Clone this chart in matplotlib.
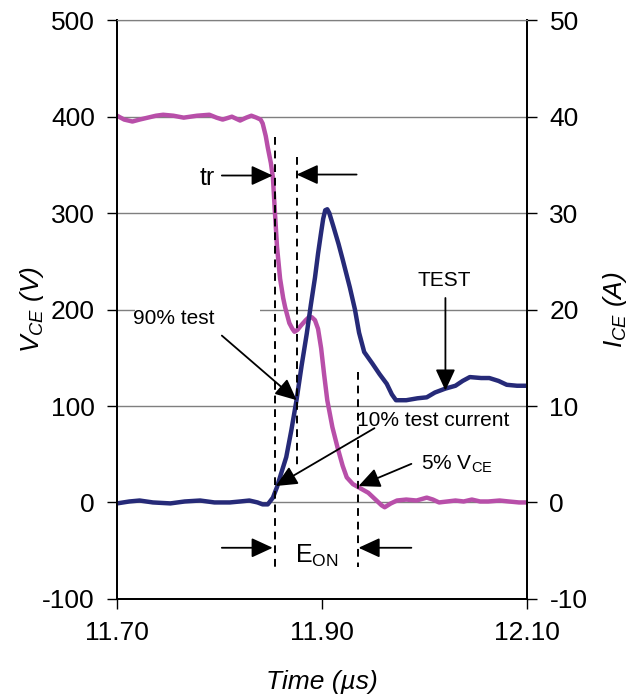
import numpy as np
import matplotlib.pyplot as plt
from matplotlib.patches import Rectangle

plt.rcParams['font.family'] = ['Liberation Sans', 'DejaVu Sans']
plt.rcParams['mathtext.fontset'] = 'custom'
plt.rcParams['mathtext.rm'] = 'Liberation Sans'
plt.rcParams['mathtext.it'] = 'Liberation Sans:italic'
plt.rcParams['axes.unicode_minus'] = False

# V_CE (V), magenta trace
t_vce = [11.700, 11.707, 11.715, 11.722, 11.730, 11.738, 11.745, 11.755, 11.765,
         11.778, 11.790, 11.797, 11.803, 11.812, 11.820, 11.826, 11.831, 11.836,
         11.840, 11.842, 11.845, 11.847, 11.850, 11.852, 11.854, 11.856, 11.859,
         11.862, 11.864, 11.868, 11.871, 11.873, 11.876, 11.879, 11.884, 11.887,
         11.890, 11.893, 11.896, 11.899, 11.902, 11.905, 11.910, 11.915, 11.920,
         11.924, 11.930, 11.935, 11.945, 11.953, 11.958, 11.961, 11.967, 11.973,
         11.982, 11.992, 12.002, 12.008, 12.014, 12.022, 12.030, 12.038, 12.046,
         12.054, 12.062, 12.073, 12.082, 12.092, 12.100]
vce = [401, 397, 395, 397, 399, 401, 402, 401, 399,
       401, 402, 399, 397, 400, 396, 399, 401, 399,
       397, 393, 380, 368, 352, 337, 300, 265, 232,
       212, 202, 186, 180, 177, 179, 183, 189, 192,
       192, 189, 180, 160, 132, 106, 78, 57, 38,
       26, 19, 16, 10, 2, -3, -5, -1, 2,
       3, 2, 5, 3, 0, 1, 2, 1, 3,
       1, 1, 2, 1, 0, 0]

# I_CE (A), navy trace
t_ice = [11.700, 11.712, 11.722, 11.735, 11.752, 11.766, 11.781, 11.795, 11.810,
         11.820, 11.829, 11.837, 11.842, 11.847, 11.852, 11.856, 11.860, 11.865,
         11.870, 11.875, 11.880, 11.885, 11.889, 11.893, 11.896, 11.899, 11.901,
         11.903, 11.905, 11.907, 11.911, 11.916, 11.920, 11.927, 11.932, 11.936,
         11.941, 11.949, 11.956, 11.963, 11.968, 11.972, 11.982, 11.993, 12.002,
         12.010, 12.020, 12.030, 12.037, 12.044, 12.055, 12.063, 12.072, 12.080,
         12.090, 12.100]
ice = [-0.1, 0.1, 0.2, 0.0, -0.1, 0.1, 0.2, 0.0, 0.0,
       0.1, 0.2, 0.0, -0.2, -0.2, 0.5, 1.6, 3.0, 4.7,
       7.5, 10.6, 14.2, 17.5, 20.5, 23.3, 25.8, 28.0, 29.4,
       30.3, 30.4, 30.0, 28.6, 26.8, 25.2, 22.3, 20.0, 17.6,
       15.6, 14.4, 13.3, 12.3, 11.2, 10.6, 10.6, 10.8, 10.9,
       11.4, 11.8, 12.1, 12.6, 13.0, 12.9, 12.9, 12.6, 12.2,
       12.1, 12.1]

v_ticks = [-100, 0, 100, 200, 300, 400, 500]
i_ticks = [-10, 0, 10, 20, 30, 40, 50]
x_ticks = [11.70, 11.90, 12.10]

fig = plt.figure(figsize=(6.43, 6.98), dpi=100)
ax = fig.add_axes([0.182, 0.142, 0.638, 0.829])
ax2 = ax.twinx()

ax.set_xlim(11.70, 12.10)
ax.set_ylim(-100, 500)
ax2.set_ylim(-10, 50)
ax.set_xticks(x_ticks)
ax.set_xticklabels(['%.2f' % x for x in x_ticks])
ax.set_yticks(v_ticks)
ax2.set_yticks(i_ticks)

ax.set_axisbelow(True)
ax.grid(axis='y', color='#7f7f7f', lw=1.0)
ax.grid(axis='x', visible=False)
for a in (ax, ax2):
    a.spines['top'].set_color('#7f7f7f')
    a.spines['bottom'].set_linewidth(1.3)
    a.spines['left'].set_linewidth(1.3)
    a.spines['right'].set_linewidth(1.3)
ax.tick_params(axis='both', direction='out', length=7, width=1, labelsize=19, pad=9)
ax2.tick_params(axis='y', direction='out', length=7, width=1, labelsize=19, pad=9)

ax.set_ylabel(r'$V_{CE}$ (V)', fontsize=19, fontstyle='italic', labelpad=-3)
ax2.set_ylabel(r'$I_{CE}$ (A)', fontsize=19, fontstyle='italic', labelpad=10)
ax.set_xlabel('Time (µs)', fontsize=19, fontstyle='italic', labelpad=18)

# white text box behind "90% test" hides the grid line there
ax.add_patch(Rectangle((11.7175, 180), 0.1215, 28, fc='white', ec='none', zorder=1))

ax.plot(t_vce, vce, color='#B84FA9', lw=3.2, solid_joinstyle='round', zorder=2)
ax2.plot(t_ice, ice, color='#262A78', lw=3.2, solid_joinstyle='round', zorder=2)

T = ax.transData
dash = dict(color='black', lw=1.4, ls=(0, (4, 3)), transform=T, zorder=3)
ax2.plot([11.8538, 11.8538], [379, -68], **dash)
ax2.plot([11.8752, 11.8752], [358, 36], **dash)
ax2.plot([11.9345, 11.9345], [135, -67], **dash)

arr = dict(arrowstyle='-|>,head_length=0.65,head_width=0.3', color='black',
           lw=1.3, mutation_scale=20, shrinkA=0, shrinkB=0)


def note(x0, y0, x1, y1):
    ax2.annotate('', xy=(x1, y1), xytext=(x0, y0), xycoords=T, textcoords=T,
                 arrowprops=arr, zorder=4)


fs = 15
ax2.text(11.7954, 336, 'tr', transform=T, fontsize=18, ha='right', va='center')
note(11.8022, 339, 11.8518, 339)
note(11.9336, 340, 11.8752, 340)

ax2.text(11.7156, 191, '90% test', transform=T, fontsize=fs, ha='left', va='center')
note(11.8022, 173, 11.8752, 106)

ax2.text(11.9336, 85, '10% test current', transform=T, fontsize=fs, ha='left', va='center')
note(11.951, 77, 11.8547, 17)

ax2.text(11.9968, 40, r'5% V$_{\mathrm{CE}}$', transform=T, fontsize=fs, ha='left', va='center')
note(11.987, 40, 11.9355, 17)

ax2.text(12.0192, 230, 'TEST', transform=T, fontsize=fs, ha='center', va='center')
note(12.0202, 212, 12.0202, 116)

ax2.text(11.8946, -55, r'E$_{\mathrm{ON}}$', transform=T, fontsize=18, ha='center', va='center')
note(11.8022, -47, 11.8518, -47)
note(11.987, -47, 11.9355, -47)

fig.savefig('out.png', dpi=100)
